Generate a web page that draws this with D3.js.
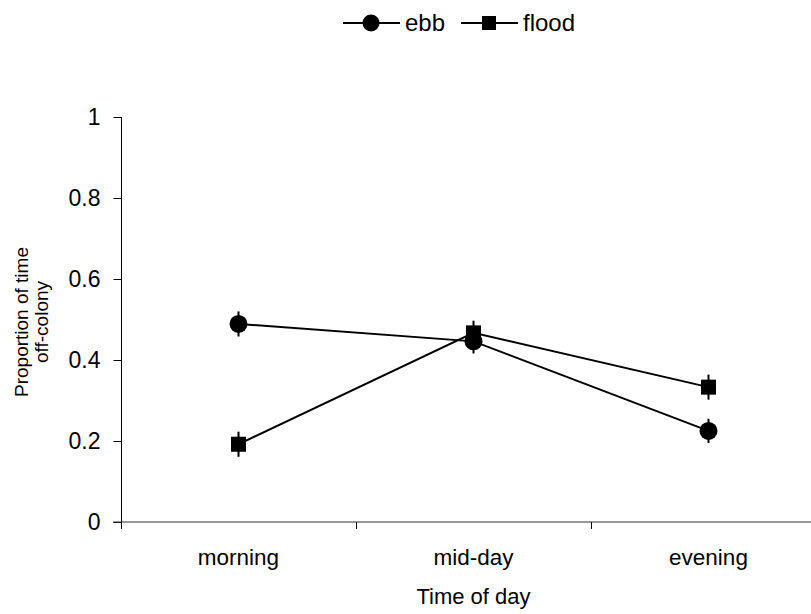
<!DOCTYPE html>
<html>
<head>
<meta charset="utf-8">
<script src="https://cdn.jsdelivr.net/npm/d3@7"></script>
<style>
  html, body { margin: 0; padding: 0; background: #fff; }
  svg { display: block; font-family: Arial, "Liberation Sans", sans-serif; }
</style>
</head>
<body>
<svg id="chart" width="811" height="614"></svg>
<script>
// ---- data ----
const categories = ["morning", "mid-day", "evening"];
const ebbValues = [0.489, 0.446, 0.225];
const ebbErrors = [0.031, 0.030, 0.030];
const floodValues = [0.192, 0.467, 0.333];
const floodErrors = [0.031, 0.030, 0.031];
const yTickValues = [0, 0.2, 0.4, 0.6, 0.8, 1];
const yTickLabels = ["0", "0.2", "0.4", "0.6", "0.8", "1"];
const seriesNames = ["ebb", "flood"];

const svg = d3.select("#chart");
const plotLeft = 121, plotTop = 117, plotBottom = 522, bandW = 235;

const x = d3.scaleBand().domain(categories).range([plotLeft, plotLeft + bandW * categories.length]).padding(0);
const y = d3.scaleLinear().domain([0, 1]).range([plotBottom, plotTop]);

// y axis
const yAxis = d3.axisLeft(y).tickValues(yTickValues)
  .tickFormat((d, i) => yTickLabels[i]).tickSize(8).tickPadding(13);
const gy = svg.append("g").attr("transform", `translate(${plotLeft + 0.5},0)`).call(yAxis);
gy.select(".domain").remove();
gy.append("line").attr("x1", 0).attr("x2", 0).attr("y1", plotTop).attr("y2", plotBottom + 7).attr("stroke", "#000");
gy.selectAll(".tick line").attr("stroke", "#000");
gy.selectAll(".tick text").attr("font-size", 23).attr("fill", "#000")
  .attr("font-family", "Arial, 'Liberation Sans', sans-serif");

// x axis
const gx = svg.append("g").attr("transform", `translate(0,${plotBottom})`);
gx.append("line").attr("x1", plotLeft - 8).attr("x2", x.range()[1]).attr("y1", 0).attr("y2", 0)
  .attr("stroke", "#333").attr("stroke-width", 1.2);
const boundaries = categories.map(c => x(c)).concat([x(categories[categories.length - 1]) + x.bandwidth()]);
gx.selectAll(".bt").data(boundaries.slice(1)).enter().append("line")
  .attr("x1", d => Math.round(d) + 0.5).attr("x2", d => Math.round(d) + 0.5)
  .attr("y1", 0).attr("y2", 7).attr("stroke", "#000");
gx.selectAll(".cl").data(categories).enter().append("text")
  .attr("x", d => x(d) + x.bandwidth() / 2).attr("y", 43)
  .attr("text-anchor", "middle").attr("font-size", 22.5).attr("fill", "#000").text(d => d);

// axis titles
svg.append("text").attr("x", x(categories[1]) + x.bandwidth() / 2).attr("y", 604)
  .attr("text-anchor", "middle").attr("font-size", 22).text("Time of day");
const yt = svg.append("text").attr("transform", "translate(0,322) rotate(-90)")
  .attr("text-anchor", "middle").attr("font-size", 19);
yt.append("tspan").attr("x", 0).attr("y", 28).text("Proportion of time");
yt.append("tspan").attr("x", 0).attr("y", 48).text("off-colony");

// series
const line = d3.line().x((d, i) => x(categories[i]) + x.bandwidth() / 2).y(d => y(d));
const series = [
  { name: seriesNames[0], vals: ebbValues, errs: ebbErrors, shape: "circle" },
  { name: seriesNames[1], vals: floodValues, errs: floodErrors, shape: "square" }
];
series.forEach(s => {
  svg.append("path").datum(s.vals).attr("d", line)
    .attr("fill", "none").attr("stroke", "#000").attr("stroke-width", 2);
});
series.forEach(s => {
  const g = svg.append("g");
  s.vals.forEach((v, i) => {
    const cx = x(categories[i]) + x.bandwidth() / 2;
    g.append("line").attr("x1", cx).attr("x2", cx)
      .attr("y1", y(v - s.errs[i])).attr("y2", y(v + s.errs[i]))
      .attr("stroke", "#000").attr("stroke-width", 2);
    if (s.shape === "circle") {
      g.append("circle").attr("cx", cx).attr("cy", y(v)).attr("r", 9).attr("fill", "#000");
    } else {
      g.append("rect").attr("x", cx - 7.5).attr("y", y(v) - 7.5).attr("width", 15).attr("height", 15).attr("fill", "#000");
    }
  });
});

// legend
const legend = svg.append("g").attr("transform", "translate(0,23)");
const legItems = [
  { name: seriesNames[0], shape: "circle", x0: 343 },
  { name: seriesNames[1], shape: "square", x0: 461 }
];
legItems.forEach(it => {
  legend.append("line").attr("x1", it.x0).attr("x2", it.x0 + 57).attr("y1", 0).attr("y2", 0)
    .attr("stroke", "#000").attr("stroke-width", 2);
  const mx = it.x0 + 28;
  if (it.shape === "circle") legend.append("circle").attr("cx", mx).attr("cy", 0).attr("r", 8.5);
  else legend.append("rect").attr("x", mx - 7).attr("y", -7).attr("width", 14).attr("height", 14);
  legend.append("text").attr("x", it.x0 + 62).attr("y", 8).attr("font-size", 24).text(it.name);
});
</script>
</body>
</html>
